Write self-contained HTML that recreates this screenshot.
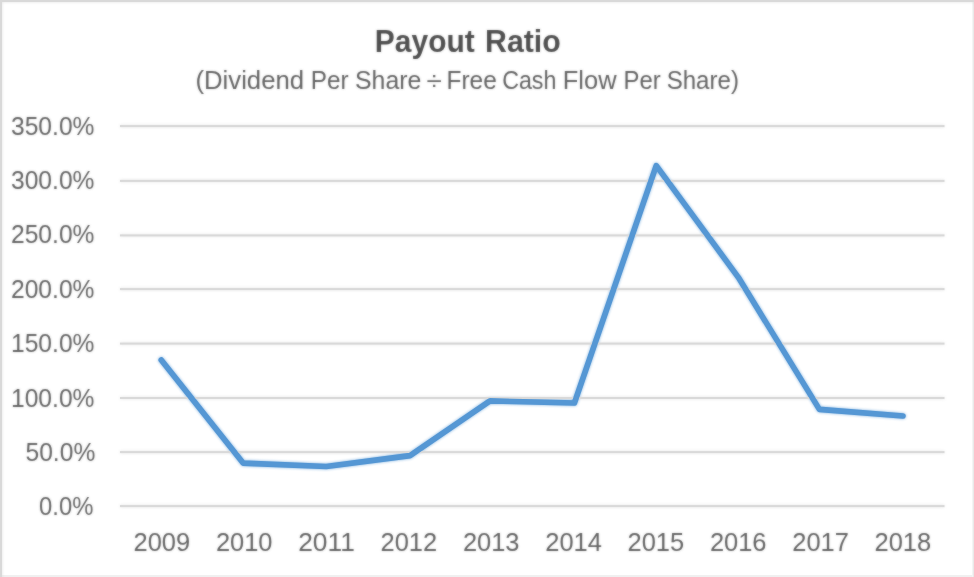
<!DOCTYPE html>
<html lang="en">
<head>
<meta charset="utf-8">
<title>Payout Ratio</title>
<style>
html,body{margin:0;padding:0;background:#fff;}
body{width:974px;height:577px;overflow:hidden;position:relative;}
svg{display:block;position:absolute;left:-12px;top:-12px;}
text{font-family:"Liberation Sans", sans-serif;fill:#626262;white-space:pre;}
.t{font-weight:bold;font-size:32px;fill:#4f4f4f;}
.s{font-size:25.9px;}
.a{font-size:26px;}
</style>
</head>
<body>
<svg width="998" height="601" viewBox="-12 -12 998 601">
<defs><filter id="halo" x="-12" y="-12" width="998" height="601" filterUnits="userSpaceOnUse" color-interpolation-filters="sRGB"><feGaussianBlur in="SourceGraphic" stdDeviation="1.5" result="b"/><feComponentTransfer in="b" result="h"><feFuncA type="linear" slope="0.8"/></feComponentTransfer><feMerge><feMergeNode in="h"/><feMergeNode in="SourceGraphic"/></feMerge></filter><filter id="soft" x="-12" y="-12" width="998" height="601" filterUnits="userSpaceOnUse" color-interpolation-filters="sRGB"><feGaussianBlur in="SourceGraphic" stdDeviation="0.9" result="b"/><feComposite in="SourceGraphic" in2="b" operator="arithmetic" k1="0" k2="0.5" k3="0.500" k4="0"/></filter></defs>
<rect x="-12" y="-12" width="998" height="601" fill="#ffffff"/>
<rect x="-12" y="575" width="998" height="14" fill="#f0f0f0"/>
<rect x="972" y="-12" width="1" height="601" fill="#f4f4f4"/>
<rect x="973" y="-12" width="13" height="601" fill="#e9e9e9"/>
<g filter="url(#halo)">
<rect x="-12" y="-12" width="998" height="14" fill="#d9d9d9"/>
<rect x="-12" y="-12" width="14" height="601" fill="#d9d9d9"/>
<g fill="#d9d9d9">
<rect x="120.0" y="125.10" width="824.5" height="2.0"/>
<rect x="120.0" y="179.90" width="824.5" height="2.0"/>
<rect x="120.0" y="234.40" width="824.5" height="2.0"/>
<rect x="120.0" y="288.10" width="824.5" height="2.0"/>
<rect x="120.0" y="342.60" width="824.5" height="2.0"/>
<rect x="120.0" y="397.00" width="824.5" height="2.0"/>
<rect x="120.0" y="451.10" width="824.5" height="2.0"/>
<rect x="120.0" y="505.10" width="824.5" height="2.0"/>
</g>
<polyline points="161.25,360.00 243.10,463.10 326.25,466.50 410.00,455.60 490.00,400.90 574.40,403.00 656.25,165.60 738.30,277.30 819.40,409.40 903.00,416.00" fill="none" stroke="#5597d4" stroke-width="5.6" stroke-linecap="round" stroke-linejoin="round"/>
</g>
<g filter="url(#soft)">
<text class="t" y="51.50"><tspan x="374.87" y="51.50" textLength="99.86" lengthAdjust="spacingAndGlyphs">Payout</tspan> <tspan x="485.03" y="51.50" textLength="75.74" lengthAdjust="spacingAndGlyphs">Ratio</tspan></text>
<text class="s" y="89.10"><tspan x="195.42" y="89.10" textLength="108.74" lengthAdjust="spacingAndGlyphs">(Dividend</tspan> <tspan x="310.69" y="89.10" textLength="37.85" lengthAdjust="spacingAndGlyphs">Per</tspan> <tspan x="355.01" y="89.10" textLength="66.35" lengthAdjust="spacingAndGlyphs">Share</tspan> <tspan x="426.54" y="90.10" textLength="15.34" lengthAdjust="spacingAndGlyphs">÷</tspan> <tspan x="446.56" y="89.10" textLength="50.26" lengthAdjust="spacingAndGlyphs">Free</tspan> <tspan x="502.20" y="89.10" textLength="54.17" lengthAdjust="spacingAndGlyphs">Cash</tspan> <tspan x="562.77" y="89.10" textLength="53.75" lengthAdjust="spacingAndGlyphs">Flow</tspan> <tspan x="623.57" y="89.10" textLength="37.18" lengthAdjust="spacingAndGlyphs">Per</tspan> <tspan x="666.66" y="89.10" textLength="72.29" lengthAdjust="spacingAndGlyphs">Share)</tspan></text>
<text class="a" x="10.99" y="134.90" textLength="83.47" lengthAdjust="spacingAndGlyphs">350.0%</text>
<text class="a" x="10.99" y="189.30" textLength="83.47" lengthAdjust="spacingAndGlyphs">300.0%</text>
<text class="a" x="10.99" y="243.10" textLength="83.47" lengthAdjust="spacingAndGlyphs">250.0%</text>
<text class="a" x="10.99" y="297.70" textLength="83.47" lengthAdjust="spacingAndGlyphs">200.0%</text>
<text class="a" x="10.99" y="352.30" textLength="83.47" lengthAdjust="spacingAndGlyphs">150.0%</text>
<text class="a" x="10.99" y="407.10" textLength="83.47" lengthAdjust="spacingAndGlyphs">100.0%</text>
<text class="a" x="25.47" y="461.10" textLength="69.87" lengthAdjust="spacingAndGlyphs">50.0%</text>
<text class="a" x="39.08" y="514.90" textLength="54.26" lengthAdjust="spacingAndGlyphs">0.0%</text>
<text class="a" x="133.55" y="550.50" textLength="56.63" lengthAdjust="spacingAndGlyphs">2009</text>
<text class="a" x="215.89" y="550.50" textLength="56.63" lengthAdjust="spacingAndGlyphs">2010</text>
<text class="a" x="298.22" y="550.50" textLength="56.63" lengthAdjust="spacingAndGlyphs">2011</text>
<text class="a" x="380.55" y="550.50" textLength="56.63" lengthAdjust="spacingAndGlyphs">2012</text>
<text class="a" x="462.89" y="550.50" textLength="56.63" lengthAdjust="spacingAndGlyphs">2013</text>
<text class="a" x="545.22" y="550.50" textLength="56.63" lengthAdjust="spacingAndGlyphs">2014</text>
<text class="a" x="627.56" y="550.50" textLength="56.63" lengthAdjust="spacingAndGlyphs">2015</text>
<text class="a" x="709.89" y="550.50" textLength="56.63" lengthAdjust="spacingAndGlyphs">2016</text>
<text class="a" x="792.22" y="550.50" textLength="56.63" lengthAdjust="spacingAndGlyphs">2017</text>
<text class="a" x="874.56" y="550.50" textLength="56.63" lengthAdjust="spacingAndGlyphs">2018</text>
</g>
</svg>
</body>
</html>
